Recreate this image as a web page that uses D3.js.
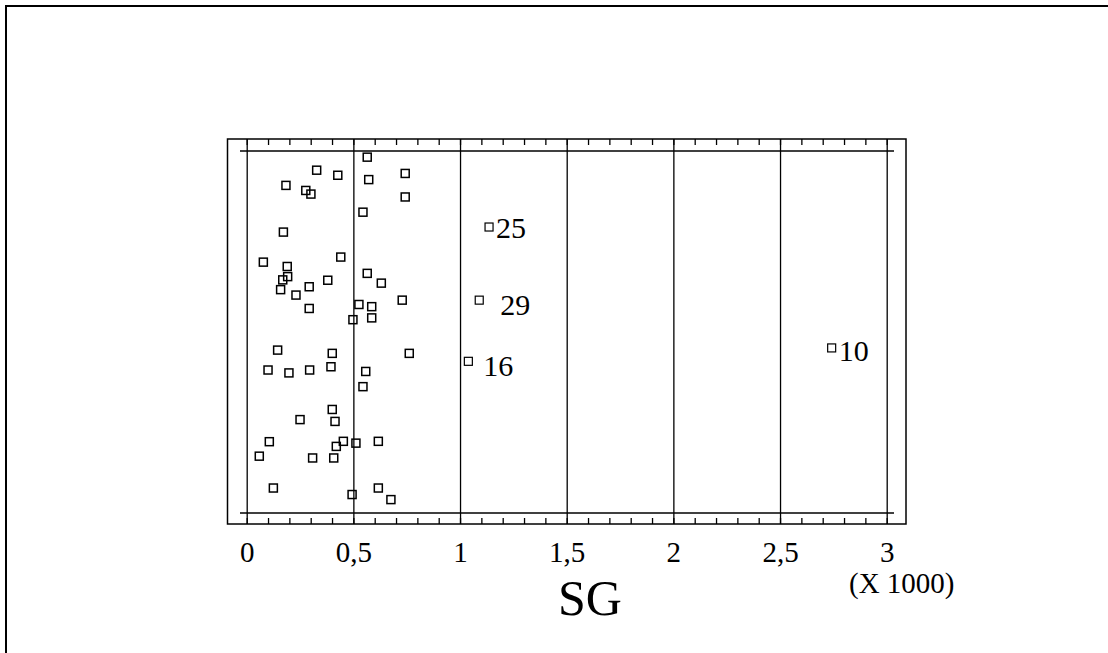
<!DOCTYPE html>
<html>
<head>
  <meta charset="utf-8">
  <title>SG</title>
  <script src="https://d3js.org/d3.v7.min.js"></script>
  <style>
    body { margin: 0; background: #fff; }
    text { font-family: "Liberation Serif", "Times New Roman", serif; fill: #000; }
  </style>
</head>
<body>
  <svg width="1108" height="653"></svg>
  <script>
    // SG values (units) and vertical jitter (0 = bottom axis, 1 = top axis)
    var sgValues = [565, 328, 427, 572, 743, 184, 277, 301, 743, 545,
                    172, 78, 441, 190, 192, 169, 159, 231, 293, 380,
                    565, 631, 729, 293, 526, 586, 586, 498, 145, 401,
                    762, 100, 198, 295, 395, 558, 545, 401, 414, 250,
                    106, 453, 512, 617, 420, 59, 309, 408, 125, 494,
                    617, 676];
    var jitter = [0.983, 0.947, 0.933, 0.921, 0.938, 0.905, 0.891, 0.881, 0.873, 0.831,
                  0.776, 0.693, 0.707, 0.681, 0.653, 0.644, 0.617, 0.602, 0.625, 0.643,
                  0.662, 0.635, 0.588, 0.565, 0.576, 0.570, 0.539, 0.534, 0.450, 0.441,
                  0.441, 0.395, 0.387, 0.395, 0.404, 0.391, 0.349, 0.286, 0.253, 0.258,
                  0.197, 0.198, 0.193, 0.198, 0.184, 0.157, 0.152, 0.152, 0.069, 0.051,
                  0.069, 0.037];

    // labelled outliers
    var outlierLabels = ["25", "29", "16", "10"];
    var outlierValues = [1136, 1090, 1039, 2742];
    var outlierJitter = [0.790, 0.588, 0.419, 0.456];

    var tickValues = [0, 500, 1000, 1500, 2000, 2500, 3000];

    var svg = d3.select("svg");

    var boxLeft = 227.5, boxRight = 906, boxTop = 139, boxBottom = 524;
    var axisTop = 151, axisBottom = 513;

    var x = d3.scaleLinear().domain([0, 3000]).range([246.7, 886.7]);
    var y = d3.scaleLinear().domain([0, 1]).range([axisBottom, axisTop]);

    // outer frame (only top/left edges visible)
    svg.append("rect")
      .attr("x", 6).attr("y", 6)
      .attr("width", 1200).attr("height", 700)
      .attr("fill", "none").attr("stroke", "#000").attr("stroke-width", 2);

    // plot box
    svg.append("rect")
      .attr("x", boxLeft).attr("y", boxTop)
      .attr("width", boxRight - boxLeft).attr("height", boxBottom - boxTop)
      .attr("fill", "none").attr("stroke", "#000").attr("stroke-width", 1.5);

    // horizontal axis lines
    [axisTop, axisBottom].forEach(function(yy) {
      svg.append("line")
        .attr("x1", 240).attr("x2", 894)
        .attr("y1", yy).attr("y2", yy)
        .attr("stroke", "#000").attr("stroke-width", 1.5);
    });

    // vertical grid lines at major ticks
    svg.append("g")
      .attr("transform", "translate(0," + boxTop + ")")
      .call(d3.axisBottom(x).tickValues(tickValues).tickSize(boxBottom - boxTop).tickFormat(""))
      .call(function(g) {
        g.select(".domain").remove();
        g.selectAll("line").attr("stroke", "#000").attr("stroke-width", 1.3);
      });

    // minor ticks, top and bottom
    var minor = d3.range(0, 3001, 100);
    svg.append("g")
      .attr("transform", "translate(0," + boxTop + ")")
      .call(d3.axisBottom(x).tickValues(minor).tickSize(6).tickFormat(""))
      .call(function(g) {
        g.select(".domain").remove();
        g.selectAll("line").attr("stroke", "#000").attr("stroke-width", 1.3);
      });
    svg.append("g")
      .attr("transform", "translate(0," + boxBottom + ")")
      .call(d3.axisTop(x).tickValues(minor).tickSize(6).tickFormat(""))
      .call(function(g) {
        g.select(".domain").remove();
        g.selectAll("line").attr("stroke", "#000").attr("stroke-width", 1.3);
      });

    // tick labels
    svg.append("g")
      .attr("transform", "translate(0," + boxBottom + ")")
      .call(d3.axisBottom(x).tickValues(tickValues).tickSize(0).tickPadding(38)
        .tickFormat(function(d) { return d3.format("~g")(d / 1000).replace(".", ","); }))
      .call(function(g) {
        g.select(".domain").remove();
        g.selectAll("text")
          .attr("dy", 0)
          .style("font-size", "29px")
          .style("font-family", "'Liberation Serif', 'Times New Roman', serif")
          .attr("fill", "#000");
      });

    svg.append("text")
      .attr("x", 849).attr("y", 593)
      .style("font-size", "29px")
      .text("(X 1000)");

    svg.append("text")
      .attr("x", 590).attr("y", 615)
      .attr("text-anchor", "middle")
      .style("font-size", "50px")
      .text("SG");

    // points
    var pts = sgValues.map(function(v, i) { return { v: v, j: jitter[i] }; });
    var sq = 8;
    svg.append("g").selectAll("rect")
      .data(pts)
      .enter()
      .append("rect")
      .attr("x", function(d) { return x(d.v) - sq / 2; })
      .attr("y", function(d) { return y(d.j) - sq / 2; })
      .attr("width", sq).attr("height", sq)
      .attr("fill", "none").attr("stroke", "#000").attr("stroke-width", 1.5);

    var outs = outlierValues.map(function(v, i) {
      return { v: v, j: outlierJitter[i], label: outlierLabels[i] };
    });
    // label offsets relative to the point
    var labelOffset = { "25": [7, 11], "29": [21, 15], "16": [15, 15], "10": [7, 13] };

    svg.append("g").selectAll("rect")
      .data(outs)
      .enter()
      .append("rect")
      .attr("x", function(d) { return x(d.v) - sq / 2; })
      .attr("y", function(d) { return y(d.j) - sq / 2; })
      .attr("width", sq).attr("height", sq)
      .attr("fill", "none").attr("stroke", "#000").attr("stroke-width", 1.2);

    svg.append("g").selectAll("text")
      .data(outs)
      .enter()
      .append("text")
      .attr("x", function(d) { return x(d.v) + labelOffset[d.label][0]; })
      .attr("y", function(d) { return y(d.j) + labelOffset[d.label][1]; })
      .style("font-size", "30px")
      .text(function(d) { return d.label; });
  </script>
</body>
</html>
